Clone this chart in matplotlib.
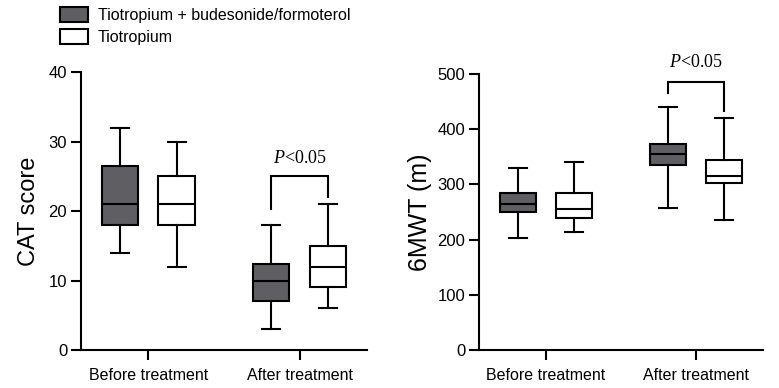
import matplotlib
matplotlib.use("Agg")
import matplotlib.pyplot as plt
from matplotlib.patches import Patch

plt.rcParams['font.family'] = ['Liberation Sans', 'DejaVu Sans']
plt.rcParams['mathtext.fontset'] = 'custom'
plt.rcParams['mathtext.it'] = 'Liberation Serif:italic'
plt.rcParams['mathtext.rm'] = 'Liberation Serif'

groups = ["Before treatment", "After treatment"]
series = ["Tiotropium + budesonide/formoterol", "Tiotropium"]
colors = ["#5e5e63", "white"]

# (whislo, q1, med, q3, whishi) per group, per series
cat_combo = [(14, 18, 21, 26.5, 32), (3, 7, 10, 12.4, 18)]
cat_tio = [(12, 18, 21, 25, 30), (6, 9, 12, 15, 21)]
mwt_combo = [(203, 250, 265, 285, 330), (257, 335, 355, 373, 440)]
mwt_tio = [(213, 240, 255, 285, 340), (235, 303, 315, 345, 420)]

# significance bracket: (top, left leg end, right leg end, text y)
cat_sig = (25, 20.3, 22, 26.3)
mwt_sig = (485, 466, 433, 505)

LW = 1.5
OFF = 0.187
W = 0.24


def stats(vals):
    lo, q1, med, q3, hi = vals
    return dict(whislo=lo, q1=q1, med=med, q3=q3, whishi=hi, fliers=[])


def draw(ax, combo, tio, ylim, yticks, ylabel, sig, ylabel_size, ylabel_pad):
    for data, col, off in [(combo, colors[0], -OFF), (tio, colors[1], OFF)]:
        pos = [i + 1 + off for i in range(len(groups))]
        ax.bxp([stats(v) for v in data], positions=pos, widths=W, capwidths=W * 0.5,
               patch_artist=True, showfliers=False,
               boxprops=dict(facecolor=col, edgecolor="black", linewidth=LW),
               medianprops=dict(color="black", linewidth=LW),
               whiskerprops=dict(color="black", linewidth=LW),
               capprops=dict(color="black", linewidth=LW))
    top, lleg, rleg, ty = sig
    x1, x2 = 2 - OFF, 2 + OFF
    ax.plot([x1, x1, x2, x2], [lleg, top, top, rleg], color="black", lw=LW,
            solid_joinstyle="miter")
    ax.text(2, ty, "$P$<0.05", ha="center", va="bottom", fontsize=13,
            family="Liberation Serif")
    ax.set_xlim(0.555, 2.445)
    ax.set_ylim(*ylim)
    ax.set_yticks(yticks)
    ax.set_xticks([1, 2])
    ax.set_xticklabels(groups, fontsize=11.5)
    ax.tick_params(axis="y", labelsize=12, length=7, width=LW, direction="out", pad=3)
    ax.tick_params(axis="x", length=7, width=LW, direction="out", pad=6)
    ax.set_ylabel(ylabel, fontsize=ylabel_size, labelpad=ylabel_pad)
    for s in ["top", "right"]:
        ax.spines[s].set_visible(False)
    for s in ["left", "bottom"]:
        ax.spines[s].set_linewidth(LW)


fig = plt.figure(figsize=(7.79, 3.88), dpi=100)
ax1 = fig.add_axes([0.104, 0.098, 0.367, 0.716])
ax2 = fig.add_axes([0.615, 0.098, 0.364, 0.711])

draw(ax1, cat_combo, cat_tio, (0, 40), [0, 10, 20, 30, 40], "CAT score", cat_sig, 17, 6)
draw(ax2, mwt_combo, mwt_tio, (0, 500), [0, 100, 200, 300, 400, 500], "6MWT (m)", mwt_sig, 18, 4)

handles = [Patch(facecolor=colors[0], edgecolor="black", linewidth=LW),
           Patch(facecolor=colors[1], edgecolor="black", linewidth=LW)]
fig.legend(handles, series, loc="upper left", bbox_to_anchor=(0.063, 1.01),
           frameon=False, fontsize=11.5, handlelength=1.75, handleheight=1.0,
           labelspacing=0.4, handletextpad=0.6, borderpad=0.2)

fig.savefig("out.png", dpi=100)
